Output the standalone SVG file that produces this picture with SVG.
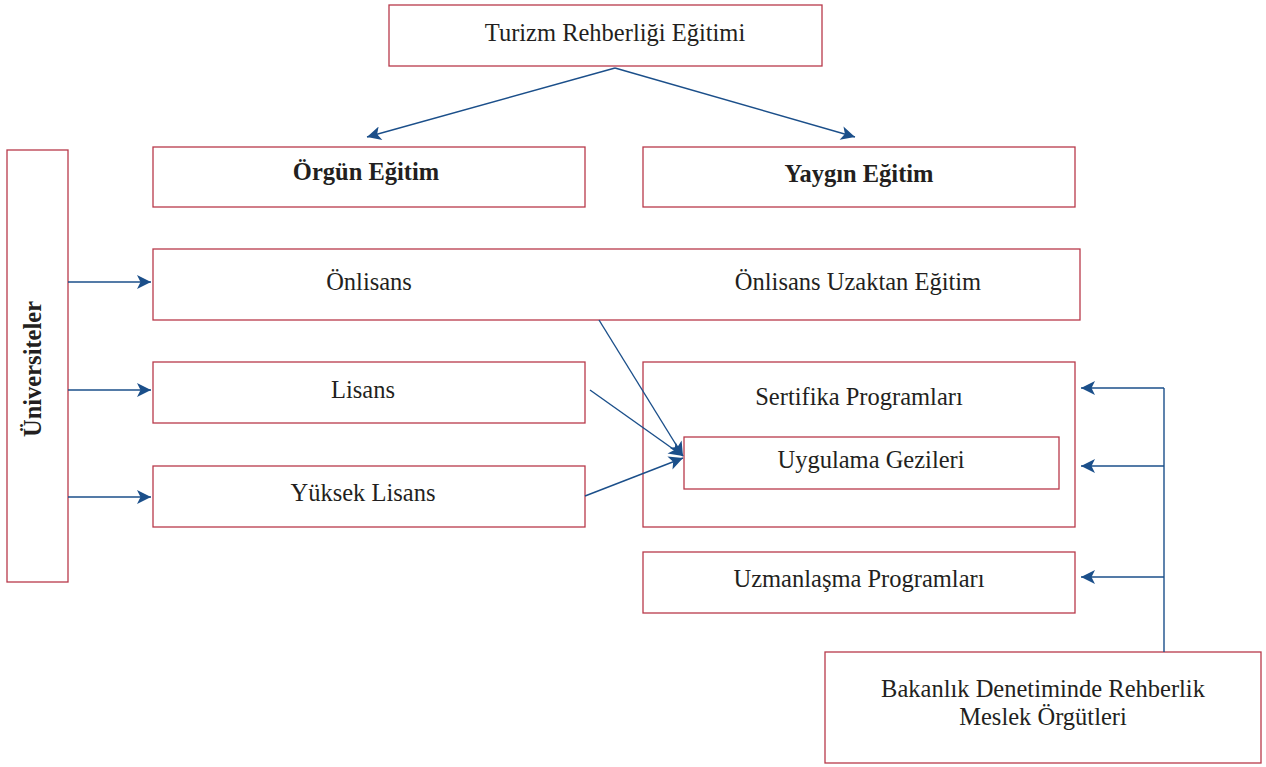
<svg xmlns="http://www.w3.org/2000/svg" width="1266" height="767" viewBox="0 0 1266 767">
<style>
.box{fill:#fff;stroke:#b83a4b;stroke-width:1.3}
.t{font-family:"Liberation Serif","Times New Roman",serif;font-size:24.5px;fill:#231f20;text-anchor:middle}
.b{font-weight:bold}
.c{fill:none;stroke:#1b4f8a;stroke-width:1.4}
</style>
<defs>
<marker id="ah" viewBox="0 0 10 10" refX="10" refY="5" markerWidth="15" markerHeight="14" markerUnits="userSpaceOnUse" orient="auto">
<path d="M0,0 L10,5 L0,10 L2.5,5 Z" fill="#1b4f8a"/>
</marker>
</defs>
<rect width="1266" height="767" fill="#fff"/>
<g id="n-top"><rect class="box" x="389" y="5" width="433" height="61"/><text class="t" x="615" y="41">Turizm Rehberliği Eğitimi</text></g>
<g id="n-orgun"><rect class="box" x="153" y="147" width="432" height="60"/><text class="t b" x="366" y="180">Örgün Eğitim</text></g>
<g id="n-yaygin"><rect class="box" x="643" y="147" width="432" height="60"/><text class="t b" x="859" y="182">Yaygın Eğitim</text></g>
<g id="n-univ"><rect class="box" x="7" y="150" width="61" height="432"/><text class="t b" transform="translate(41,369) rotate(-90)">Üniversiteler</text></g>
<g id="n-onlisans"><rect class="box" x="153" y="249" width="927" height="71"/><text class="t" x="369" y="290">Önlisans</text><text class="t" x="858" y="290">Önlisans Uzaktan Eğitim</text></g>
<g id="n-lisans"><rect class="box" x="153" y="362" width="432" height="61"/><text class="t" x="363" y="398">Lisans</text></g>
<g id="n-yuksek"><rect class="box" x="153" y="466" width="432" height="61"/><text class="t" x="363" y="501">Yüksek Lisans</text></g>
<g id="n-sertifika"><rect class="box" x="643" y="362" width="432" height="165"/><text class="t" x="859" y="405">Sertifika Programları</text></g>
<g id="n-uygulama"><rect class="box" x="684" y="437" width="375" height="52"/><text class="t" x="871" y="468">Uygulama Gezileri</text></g>
<g id="n-uzman"><rect class="box" x="643" y="552" width="432" height="61"/><text class="t" x="859" y="587">Uzmanlaşma Programları</text></g>
<g id="n-bakanlik"><rect class="box" x="825" y="652" width="436" height="111"/><text class="t" x="1043" y="697">Bakanlık Denetiminde Rehberlik</text><text class="t" x="1043" y="725">Meslek Örgütleri</text></g>
<g id="connectors">
<path class="c" d="M615,68 L367,137" marker-end="url(#ah)"/>
<path class="c" d="M615,68 L855,137" marker-end="url(#ah)"/>
<path class="c" d="M68,282 L151,282" marker-end="url(#ah)"/>
<path class="c" d="M68,390 L151,390" marker-end="url(#ah)"/>
<path class="c" d="M68,497 L151,497" marker-end="url(#ah)"/>
<path class="c" d="M599,320 L683,456" marker-end="url(#ah)"/>
<path class="c" d="M590,390 L683,456" marker-end="url(#ah)"/>
<path class="c" d="M585,496 L683,458" marker-end="url(#ah)"/>
<path class="c" d="M1164,652 L1164,388"/>
<path class="c" d="M1164,388 L1081,388" marker-end="url(#ah)"/>
<path class="c" d="M1164,466 L1081,466" marker-end="url(#ah)"/>
<path class="c" d="M1164,577 L1081,577" marker-end="url(#ah)"/>
</g>
</svg>
